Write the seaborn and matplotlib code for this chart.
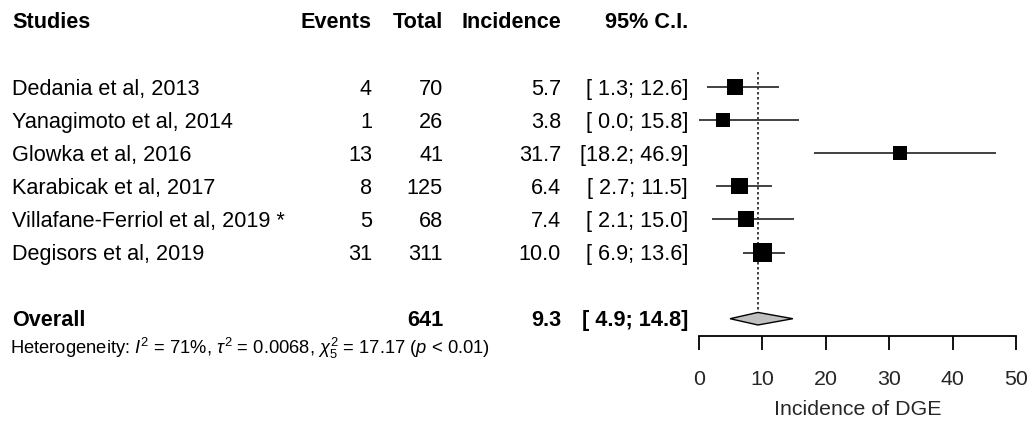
import matplotlib
matplotlib.use("Agg")
import matplotlib.pyplot as plt
import matplotlib.transforms as mtransforms
import numpy as np
import pandas as pd
import seaborn as sns

# ---- data -------------------------------------------------------------
studies = ["Dedania et al, 2013", "Yanagimoto et al, 2014", "Glowka et al, 2016",
           "Karabicak et al, 2017", "Villafane-Ferriol et al, 2019 *", "Degisors et al, 2019"]
events = [4, 1, 13, 8, 5, 31]
totals = [70, 26, 41, 125, 68, 311]
incidence = [5.7, 3.8, 31.7, 6.4, 7.4, 10.0]
ci_low = [1.3, 0.0, 18.2, 2.7, 2.1, 6.9]
ci_high = [12.6, 15.8, 46.9, 11.5, 15.0, 13.6]
weights = [16.5, 13.2, 13.6, 17.6, 16.8, 22.3]

overall_total = 641
overall_est = 9.3
overall_low = 4.9
overall_high = 14.8

x_ticks = [0, 10, 20, 30, 40, 50]
x_label = "Incidence of DGE"
headers = ["Studies", "Events", "Total", "Incidence", "95% C.I."]
het_text = (r"Heterogeneity: $I^2$ = 71%, $\tau^2$ = 0.0068, "
            r"$\chi^2_5$ = 17.17 ($p$ < 0.01)")

# ---- style ------------------------------------------------------------
sns.set_theme(style="white")
plt.rcParams["font.family"] = ["Liberation Sans", "DejaVu Sans"]
plt.rcParams["mathtext.fontset"] = "custom"
plt.rcParams["mathtext.rm"] = "Liberation Sans"
plt.rcParams["mathtext.it"] = "Liberation Sans:italic"
plt.rcParams["mathtext.bf"] = "Liberation Sans:bold"

W, H = 1033, 429
fig = plt.figure(figsize=(W / 100, H / 100), dpi=100)
fig.patch.set_facecolor("white")

# forest panel: x in incidence units, y in row units (row 0 = first study)
row0_px, row_step = 87.0, 33.1
axis_px = 335.7
x0_px, x1_px = 699.0, 1016.0
y_bottom = (axis_px - row0_px) / row_step
y_top = -row0_px / row_step
ax = fig.add_axes([x0_px / W, 1 - axis_px / H, (x1_px - x0_px) / W, axis_px / H])
ax.set_xlim(0, 50)
ax.set_ylim(y_bottom, y_top)
ax.patch.set_alpha(0)

rows = np.arange(len(studies))
overall_row = 7

df = pd.DataFrame({"row": rows, "est": incidence, "w": weights})

# confidence intervals
ax.hlines(rows, ci_low, ci_high, color="#333333", linewidth=1.3, zorder=2)

# study squares sized by weight
k = 7.8
sns.scatterplot(data=df, x="est", y="row", size="w",
                sizes=(k * min(weights), k * max(weights)),
                size_norm=(min(weights), max(weights)),
                marker="s", color="black", linewidth=0, legend=False,
                ax=ax, zorder=3)

# pooled estimate reference line
ax.vlines(overall_est, -0.46, 7.13, color="#222222", linewidth=1.2,
          linestyle=(0, (1.5, 1.5)), zorder=1)

# pooled diamond
dh = 0.19
ax.fill([overall_low, overall_est, overall_high, overall_est],
        [overall_row, overall_row - dh, overall_row, overall_row + dh],
        facecolor="#c0c0c0", edgecolor="black", linewidth=1.0, zorder=4)

# axis
for side in ["top", "right", "left"]:
    ax.spines[side].set_visible(False)
ax.spines["bottom"].set_bounds(0, 50)
ax.spines["bottom"].set_linewidth(1.3)
ax.spines["bottom"].set_color("black")
ax.set_xticks(x_ticks)
ax.set_yticks([])
ax.tick_params(axis="x", direction="out", length=10.2, width=1.3, color="black",
               labelsize=15.4, pad=14.5, bottom=True)
ax.set_xlabel(x_label, fontsize=15.4, labelpad=8)
ax.set_ylabel("")

# ---- text table ---------------------------------------------------------
tr = mtransforms.blended_transform_factory(fig.transFigure, ax.transData)
fs = 15.6
base = 0.23  # baseline offset from row centre (row units)
col_x = {"study": 12, "events": 372, "total": 443, "inc": 561, "ci": 688}


def put(xpx, row, s, ha="right", weight="normal", size=fs):
    fig.text(xpx / W, row + base, s, transform=tr, ha=ha, va="baseline",
             fontsize=size, fontweight=weight, color="black")


header_row = -2.02
put(col_x["study"], header_row, headers[0], ha="left", weight="bold")
put(col_x["events"], header_row, headers[1], weight="bold")
put(col_x["total"], header_row, headers[2], weight="bold")
put(col_x["inc"], header_row, headers[3], weight="bold")
put(col_x["ci"], header_row, headers[4], weight="bold")

for i, name in enumerate(studies):
    put(col_x["study"], i, name, ha="left")
    put(col_x["events"], i, f"{events[i]}")
    put(col_x["total"], i, f"{totals[i]}")
    put(col_x["inc"], i, f"{incidence[i]:.1f}")
    put(col_x["ci"], i, f"[{ci_low[i]:4.1f}; {ci_high[i]:4.1f}]")

put(col_x["study"], overall_row, "Overall", ha="left", weight="bold")
put(col_x["total"], overall_row, f"{overall_total}", weight="bold")
put(col_x["inc"], overall_row, f"{overall_est:.1f}", weight="bold")
put(col_x["ci"], overall_row, f"[{overall_low:4.1f}; {overall_high:4.1f}]", weight="bold")

fig.text(10 / W, 7.85 + base, het_text, transform=tr, ha="left", va="baseline",
         fontsize=13.2, color="black")

fig.savefig("out.png", dpi=100, facecolor="white")
